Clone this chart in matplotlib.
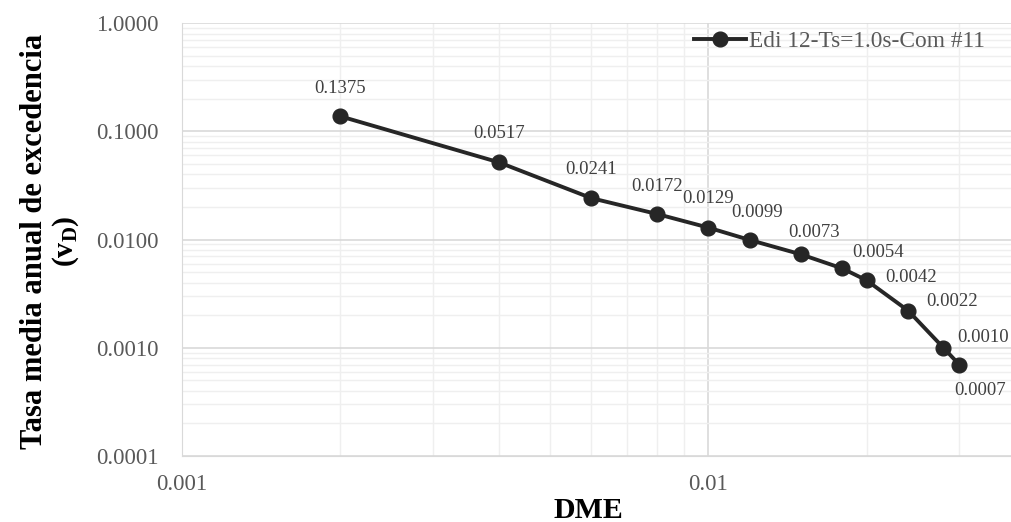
import numpy as np
import matplotlib
matplotlib.use("Agg")
import matplotlib.pyplot as plt
from matplotlib.ticker import FixedLocator, LogLocator, NullFormatter

plt.rcParams['font.family'] = ['Liberation Serif', 'DejaVu Serif']
plt.rcParams['mathtext.fontset'] = 'custom'
plt.rcParams['mathtext.rm'] = 'Liberation Serif'
plt.rcParams['mathtext.bf'] = 'Liberation Serif:bold'

# DME vs annual mean exceedance rate
dme = [0.002, 0.004, 0.006, 0.008, 0.010, 0.012, 0.015, 0.018, 0.020, 0.024, 0.028, 0.030]
rate = [0.1375, 0.0517, 0.0241, 0.0172, 0.0129, 0.0099, 0.0073, 0.0054, 0.0042, 0.0022, 0.0010, 0.0007]
serie = 'Edi 12-Ts=1.0s-Com #11'

# label offsets in pixels (dx, dy) from each point
offs = [(0, 28), (0, 29), (0, 29), (0, 28), (0, 29), (7, 27), (13, 22),
        (36, 16), (45, 3), (44, 9), (40, 10), (21, -26)]

fig = plt.figure(figsize=(10.12, 5.22), dpi=100)
ax = fig.add_axes([0.1798, 0.1264, 0.8202, 0.8295])

ax.plot(dme, rate, color='#262626', lw=2.8, marker='o', ms=10.6,
        label=serie, zorder=3, clip_on=False)

for x, y, (dx, dy) in zip(dme, rate, offs):
    ax.annotate('%.4f' % y, (x, y), xytext=(dx*0.72, dy*0.72),
                textcoords='offset points', ha='center', va='center',
                fontsize=13.5, color='#404040')

ax.set_xscale('log')
ax.set_yscale('log')
ax.set_xlim(0.001, 0.0378)
ax.set_ylim(0.0001, 1.0)

ax.xaxis.set_major_locator(FixedLocator([0.001, 0.01]))
ax.set_xticklabels(['0.001', '0.01'])
ax.xaxis.set_minor_locator(LogLocator(base=10, subs=np.arange(2, 10)))
ax.xaxis.set_minor_formatter(NullFormatter())
ax.yaxis.set_major_locator(FixedLocator([0.0001, 0.001, 0.01, 0.1, 1.0]))
ax.set_yticklabels(['%.4f' % v for v in [0.0001, 0.001, 0.01, 0.1, 1.0]])
ax.yaxis.set_minor_locator(LogLocator(base=10, subs=np.arange(2, 10)))
ax.yaxis.set_minor_formatter(NullFormatter())

ax.grid(which='major', color='#d9d9d9', lw=1.2)
ax.grid(which='minor', color='#efefef', lw=1.0)
ax.set_axisbelow(True)
ax.tick_params(which='both', length=0, labelsize=16.5, labelcolor='#595959')
ax.tick_params(axis='x', pad=13)
ax.tick_params(axis='y', pad=16.5)

for s in ['top', 'right']:
    ax.spines[s].set_visible(False)
ax.spines['left'].set_color('#d9d9d9')
ax.spines['bottom'].set_color('#d9d9d9')

# axis titles
fig.text(588/1012, 0.008, 'DME', fontsize=21.5, fontweight='bold',
         ha='center', va='baseline')
fig.text(35/1012, 1 - 241/522, 'Tasa media anual de excedencia',
         fontsize=22, fontweight='bold', rotation=90, ha='center', va='center')
fig.text(66/1012, 1 - 241/522, r'$\mathbf{(v_D)}$',
         fontsize=21.5, rotation=90, ha='center', va='center')

ax.legend(loc='upper right', bbox_to_anchor=(985/1012, 1 - 31/522),
          bbox_transform=fig.transFigure, frameon=False, fontsize=16.8,
          handlelength=2.2, handletextpad=0.15, borderaxespad=0,
          borderpad=0, labelcolor='#595959')

fig.savefig('out.png', dpi=100)
